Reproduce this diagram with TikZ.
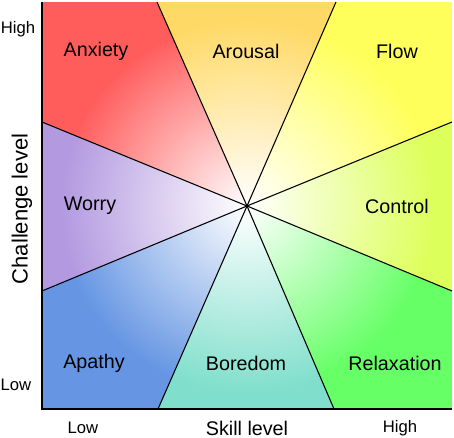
\documentclass[tikz,border=0pt]{standalone}
\usepackage{fontspec}
\setmainfont{Liberation Sans}
\usetikzlibrary{positioning,calc}
\definecolor{anxiety}{HTML}{FF5C5C}
\definecolor{arousal}{HTML}{FFD966}
\definecolor{flow}{HTML}{FFFF5C}
\definecolor{control}{HTML}{DDFF5C}
\definecolor{relax}{HTML}{66FF66}
\definecolor{boredom}{HTML}{80DFCC}
\definecolor{apathy}{HTML}{6696E3}
\definecolor{worry}{HTML}{B399E0}
\tikzset{
  zone/.style={font=\fontsize{14.8}{17}\selectfont, inner sep=0pt},
  tick/.style={font=\fontsize{12.5}{15}\selectfont, inner sep=0pt},
  axislabel/.style={font=\fontsize{14.8}{17}\selectfont, inner sep=0pt},
  divider/.style={draw=black, line width=0.8pt},
  axis/.style={draw=black, line width=1.6pt}
}

\begin{document}
\begin{tikzpicture}[x=0.75pt, y=-0.75pt]
  \useasboundingbox (0,0) rectangle (454,438);
  % plot frame and centre
  \coordinate (O) at (247,206);
  \coordinate (tl) at (42,2);
  \coordinate (tr) at (452,2);
  \coordinate (br) at (452,409);
  \coordinate (bl) at (42,409);
  % where the dividers meet the frame
  \coordinate (ta) at (157,2);
  \coordinate (tb) at (336,2);
  \coordinate (ra) at (452,122);
  \coordinate (rb) at (452,291);
  \coordinate (ba) at (334,409);
  \coordinate (bb) at (158,409);
  \coordinate (la) at (42,291);
  \coordinate (lb) at (42,122);

  % shaded sectors
  \foreach \p/\c/\q/\col in {lb/tl/ta/anxiety, ta/ta/tb/arousal, tb/tr/ra/flow,
      ra/ra/rb/control, rb/br/ba/relax, ba/ba/bb/boredom, bb/bl/la/apathy, la/la/lb/worry}{
    \begin{scope}
      \clip (O) -- (\p) -- (\c) -- (\q) -- cycle;
      \fill[\col] (tl) rectangle (br);
      \shade[inner color=white, outer color=\col] (O) circle (140pt);
    \end{scope}
  }

  % dividers
  \foreach \p in {ta,tb,ra,rb,ba,bb,la,lb}
    \draw[divider] (O) -- (\p);

  % axes
  \draw[axis] (tl) -- (bl) -- (br);

  % zone labels
  \node[zone] (anx) at (96,51) {Anxiety};
  \node[zone] (aro) at (246,51) {Arousal};
  \node[zone] (flo) at (397,51) {Flow};
  \node[zone] (wor) at (90,206) {Worry};
  \node[zone] (con) at (397,206) {Control};
  \node[zone] (apa) at (94,363) {Apathy};
  \node[zone] (bor) at (246,363) {Boredom};
  \node[zone] (rel) at (395,363) {Relaxation};

  % axis labels
  \node[tick] (yhigh) at (18,29) {High};
  \node[tick] (ylow) at (16,385) {Low};
  \node[tick] (xlow) at (83,428) {Low};
  \node[tick] (xhigh) at (400,428) {High};
  \node[axislabel] (xlab) at (247,428) {Skill level};
  \node[axislabel, rotate=90, font=\fontsize{16.5}{19}\selectfont] (ylab) at (22,209) {Challenge level};
\end{tikzpicture}
\end{document}
